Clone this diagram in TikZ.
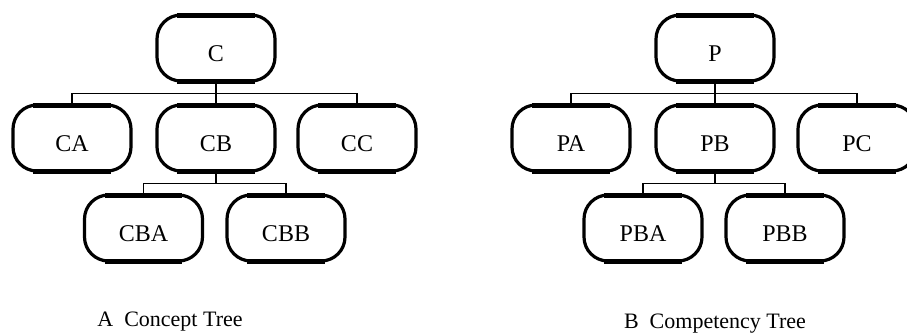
\documentclass[tikz,border=0pt]{standalone}
\usepackage{fontspec}
\setmainfont{Liberation Serif}
\begin{document}
\begin{tikzpicture}[x=1pt,y=-1pt,
  treebox/.style={draw=black, line width=3.2pt, rounded corners=24pt,
    minimum width=118pt, minimum height=66pt, inner sep=0pt,
    text height=26pt, text depth=0pt, font=\fontsize{24}{28}\selectfont,
    append after command={
      \pgfextra{
        \draw[line width=5pt, line cap=butt]
          ([shift={(22pt,-1.6pt)}]\tikzlastnode.north west) --
          ([shift={(-22pt,-1.6pt)}]\tikzlastnode.north east);
        \draw[line width=5pt, line cap=butt]
          ([shift={(22pt,1.6pt)}]\tikzlastnode.south west) --
          ([shift={(-22pt,1.6pt)}]\tikzlastnode.south east);
      }}},
  link/.style={draw=black, line width=1.2pt},
  caption/.style={font=\fontsize{22}{26}\selectfont, anchor=base}]
\useasboundingbox (0,0) rectangle (907,333);
\clip (0,0) rectangle (907,333);

% concept tree
\node[treebox] (C)   at (216,48)   {C};
\node[treebox] (CA)  at (72,138)   {CA};
\node[treebox] (CB)  at (216,138)  {CB};
\node[treebox] (CC)  at (357,138)  {CC};
\node[treebox] (CBA) at (143.5,228) {CBA};
\node[treebox] (CBB) at (286,228)  {CBB};

\draw[link] (CA.north) -- ++(0,-10) -| (CC.north);
\draw[link] (C.south) -- (CB.north);
\draw[link] (CBA.north) -- ++(0,-10) -| (CBB.north);
\draw[link] (CB.south) -- ++(0,10);

\node[caption] (capA) at (170,326) {A\enspace Concept Tree};

% competency tree
\node[treebox] (P)   at (715,48)   {P};
\node[treebox] (PA)  at (571,138)  {PA};
\node[treebox] (PB)  at (715,138)  {PB};
\node[treebox] (PC)  at (857,138)  {PC};
\node[treebox] (PBA) at (643,228)  {PBA};
\node[treebox] (PBB) at (785,228)  {PBB};

\draw[link] (PA.north) -- ++(0,-10) -| (PC.north);
\draw[link] (P.south) -- (PB.north);
\draw[link] (PBA.north) -- ++(0,-10) -| (PBB.north);
\draw[link] (PB.south) -- ++(0,10);

\node[caption] (capB) at (715,328) {B\enspace Competency Tree};
\end{tikzpicture}
\end{document}
